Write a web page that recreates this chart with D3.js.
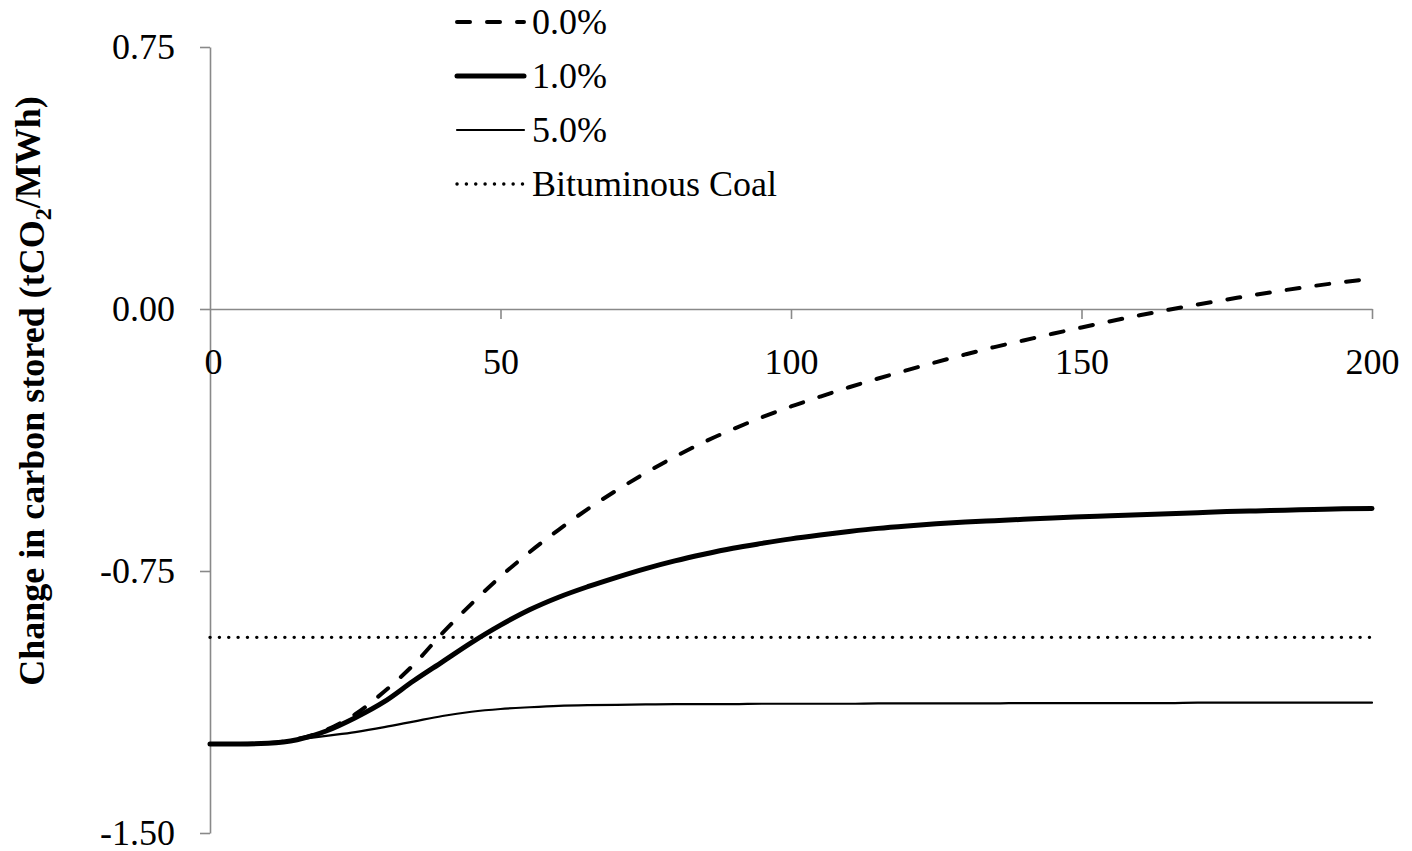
<!DOCTYPE html>
<html>
<head>
<meta charset="utf-8">
<script src="https://cdn.jsdelivr.net/npm/d3@7"></script>
<style>
  html, body { margin: 0; padding: 0; background: #fff; }
  svg { display: block; }
  text { font-family: "Liberation Serif", "Times New Roman", serif; fill: #000; }
</style>
</head>
<body>
<svg id="chart" width="1412" height="851"></svg>
<script>
// ---- data ----
const years = [0,5,10,15,20,25,30,35,40,45,50,55,60,65,70,75,80,85,90,95,100,
               105,110,115,120,125,130,135,140,145,150,155,160,165,170,175,180,185,190,195,200];
const rate0 = [-1.245,-1.245,-1.243,-1.231,-1.205,-1.160,-1.095,-1.019,-0.928,-0.844,-0.766,
               -0.696,-0.632,-0.573,-0.519,-0.469,-0.423,-0.381,-0.344,-0.310,-0.279,
               -0.251,-0.224,-0.199,-0.175,-0.152,-0.130,-0.109,-0.090,-0.071,-0.053,
               -0.035,-0.018,-0.002,0.013,0.027,0.041,0.054,0.066,0.077,0.087];
const rate1 = [-1.245,-1.245,-1.243,-1.233,-1.208,-1.170,-1.124,-1.065,-1.010,-0.955,-0.905,
               -0.861,-0.825,-0.795,-0.768,-0.743,-0.721,-0.702,-0.685,-0.671,-0.658,
               -0.647,-0.637,-0.628,-0.621,-0.615,-0.610,-0.606,-0.602,-0.598,-0.595,
               -0.592,-0.589,-0.586,-0.583,-0.580,-0.578,-0.576,-0.574,-0.572,-0.571];
const rate5 = [-1.245,-1.245,-1.242,-1.233,-1.222,-1.211,-1.197,-1.181,-1.165,-1.153,-1.145,
               -1.140,-1.136,-1.134,-1.133,-1.132,-1.131,-1.131,-1.131,-1.130,-1.130,
               -1.130,-1.130,-1.129,-1.129,-1.129,-1.129,-1.129,-1.128,-1.128,-1.128,
               -1.128,-1.128,-1.128,-1.127,-1.127,-1.127,-1.127,-1.127,-1.127,-1.127];
const coalYears = [0, 200];
const coalValue = -0.94;
const seriesNames = ["0.0%", "1.0%", "5.0%", "Bituminous Coal"];
const xTicks = [0, 50, 100, 150, 200];
const yTicks = [0.75, 0, -0.75, -1.5];

// ---- layout ----
const svg = d3.select("#chart");
const x = d3.scaleLinear().domain([0, 200]).range([210, 1372]);
const y = d3.scaleLinear().domain([-1.5, 0.75]).range([833, 47]);
const axisColor = "#898989";
const fontSize = 36;

// y axis
const gy = svg.append("g").attr("transform", "translate(210,0)")
  .call(d3.axisLeft(y).tickValues(yTicks).tickSize(10).tickSizeOuter(0).tickPadding(25)
        .tickFormat(d => d.toFixed(2)));
// x axis at zero
const gx = svg.append("g").attr("transform", `translate(0,${y(0)})`)
  .call(d3.axisBottom(x).tickValues(xTicks).tickSize(10).tickSizeOuter(0).tickPadding(29)
        .tickFormat(d => String(d)));

[gx, gy].forEach(g => {
  g.selectAll("path.domain").attr("stroke", axisColor).attr("stroke-width", 1.6);
  g.selectAll(".tick line").attr("stroke", axisColor).attr("stroke-width", 1.6);
  g.selectAll(".tick text").attr("font-size", fontSize)
    .attr("font-family", "'Liberation Serif', 'Times New Roman', serif").attr("fill", "#000");
});
gx.selectAll(".tick").filter(d => d === 0).select("line").remove();
gx.selectAll(".tick").filter(d => d === 0).select("text").attr("dx", "0.08em");

// y axis title
const title = svg.append("text")
  .attr("transform", "translate(44,391) rotate(-90)")
  .attr("text-anchor", "middle")
  .attr("font-size", fontSize)
  .attr("font-weight", "bold");
title.append("tspan").text("Change in carbon stored (tCO");
title.append("tspan").attr("font-size", 24).attr("dy", "0.3em").text("2");
title.append("tspan").attr("dy", "-0.3em").text("/MWh)");

// lines
const line = d3.line().x(d => x(d[0])).y(d => y(d[1])).curve(d3.curveMonotoneX);
const styles = [
  { width: 4, dash: "13,17", cap: "round" },
  { width: 5, dash: null, cap: "round" },
  { width: 2.2, dash: null, cap: "round" },
  { width: 3.4, dash: "0.1,9.25", cap: "round" }
];
const seriesData = [
  years.map((t, i) => [t, rate0[i]]),
  years.map((t, i) => [t, rate1[i]]),
  years.map((t, i) => [t, rate5[i]]),
  coalYears.map(t => [t, coalValue])
];
const order = [3, 2, 1, 0];
order.forEach(k => {
  const st = styles[k];
  const p = svg.append("path").datum(seriesData[k])
    .attr("fill", "none").attr("stroke", "#000")
    .attr("stroke-width", st.width).attr("stroke-linecap", st.cap)
    .attr("stroke-linejoin", "round")
    .attr("d", line);
  if (st.dash) p.attr("stroke-dasharray", st.dash);
});

// legend
const legendY = [22, 76, 130, 184];
const leg = svg.append("g");
seriesNames.forEach((name, i) => {
  const st = styles[i];
  const ln = leg.append("line").attr("x1", 457).attr("x2", 524)
    .attr("y1", legendY[i]).attr("y2", legendY[i])
    .attr("stroke", "#000").attr("stroke-width", st.width)
    .attr("stroke-linecap", st.cap);
  if (st.dash) ln.attr("stroke-dasharray", st.dash);
  leg.append("text").attr("x", 532).attr("y", legendY[i] + 12)
    .attr("font-size", fontSize).text(name);
});
</script>
</body>
</html>
